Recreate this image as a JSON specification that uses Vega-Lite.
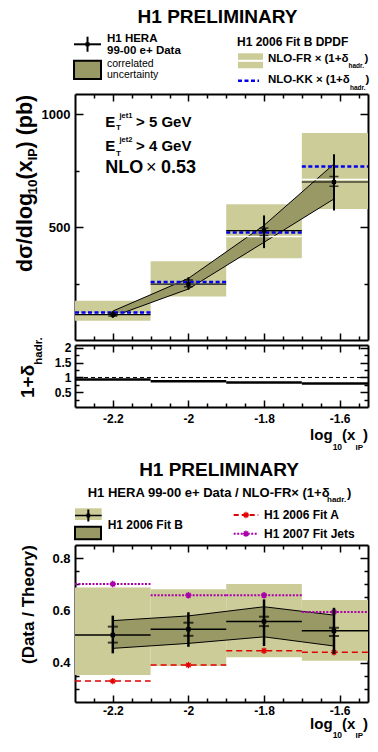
{
"$schema": "https://vega.github.io/schema/vega-lite/v6.json",
"background": "white",
"padding": {"left": 15, "top": 0, "right": 5, "bottom": 5},
"spacing": 5,
"bounds": "flush",
"config": {
 "view": {"stroke": null},
 "font": "Liberation Sans",
 "axis": {"domain": true, "domainColor": "black", "domainWidth": 2, "grid": false, "ticks": true, "tickColor": "black", "tickWidth": 1.5, "labelFont": "Liberation Sans", "labelFontWeight": "bold", "labelColor": "black", "labelFontSize": 12, "zindex": 1, "labelOverlap": false, "labelBound": false, "labelFlush": false},
 "text": {"font": "Liberation Sans", "fontWeight": "bold", "color": "black", "baseline": "alphabetic"}
},
"datasets": {
 "one": [{}],
 "bins": [
  {"lo": -2.3, "hi": -2.1, "x": -2.2, "fr": 115, "frLo": 85, "frHi": 174, "kk": 122, "d": 112, "sLo": 106, "sHi": 119, "tLo": 98, "tHi": 128, "had": 0.93, "r": 0.506, "rsLo": 0.477, "rsHi": 0.538, "rtLo": 0.436, "rtHi": 0.58, "bLo": 0.353, "bHi": 0.688, "fitA": 0.33, "fitJ": 0.701},
  {"lo": -2.1, "hi": -1.9, "x": -2.0, "fr": 247, "frLo": 193, "frHi": 349, "kk": 257, "d": 248, "sLo": 236, "sHi": 266, "tLo": 223, "tHi": 278, "had": 0.87, "r": 0.528, "rsLo": 0.503, "rsHi": 0.553, "rtLo": 0.461, "rtHi": 0.593, "bLo": 0.388, "bHi": 0.681, "fitA": 0.391, "fitJ": 0.658},
  {"lo": -1.9, "hi": -1.7, "x": -1.8, "fr": 459, "frLo": 362, "frHi": 601, "kk": 476, "d": 485, "sLo": 463, "sHi": 496, "tLo": 407, "tHi": 552, "had": 0.83, "r": 0.558, "rsLo": 0.54, "rsHi": 0.576, "rtLo": 0.464, "rtHi": 0.642, "bLo": 0.421, "bHi": 0.701, "fitA": 0.446, "fitJ": 0.658},
  {"lo": -1.7, "hi": -1.525, "x": -1.615, "fr": 711, "frLo": 580, "frHi": 917, "kk": 769, "d": 700, "sLo": 681, "sHi": 725, "tLo": 574, "tHi": 823, "had": 0.8, "r": 0.522, "rsLo": 0.502, "rsHi": 0.534, "rtLo": 0.433, "rtHi": 0.61, "bLo": 0.408, "bHi": 0.64, "fitA": 0.44, "fitJ": 0.594}
 ],
 "corr": [
  {"x": -2.2, "up": 128, "dn": 104, "rup": 0.561, "rdn": 0.455},
  {"x": -2.0, "up": 273, "dn": 226, "rup": 0.579, "rdn": 0.474},
  {"x": -1.8, "up": 508, "dn": 433, "rup": 0.614, "rdn": 0.499},
  {"x": -1.615, "up": 780, "dn": 625, "rup": 0.582, "rdn": 0.464}
 ]
},
"vconcat": [
 {
  "width": 293, "height": 89,
  "data": {"name": "one"},
  "layer": [
   {"mark": {"type": "text", "text": "H1 PRELIMINARY", "align": "center", "fontSize": 19}, "encoding": {"x": {"datum": -1.9231, "type": "quantitative", "scale": {"domain": [-2.3, -1.525], "nice": false, "zero": false}, "axis": null}, "y": {"datum": 23.3, "type": "quantitative", "scale": {"domain": [0, 89], "reverse": true, "nice": false, "zero": false}, "axis": null}}},
   {"mark": {"type": "rule", "color": "black", "strokeWidth": 2}, "encoding": {"x": {"datum": -2.3026, "axis": null}, "x2": {"datum": -2.2312}, "y": {"datum": 44.3, "axis": null}}},
   {"mark": {"type": "rule", "color": "black", "strokeWidth": 2}, "encoding": {"x": {"datum": -2.2669, "axis": null}, "y": {"datum": 36.7, "axis": null}, "y2": {"datum": 51.7}}},
   {"mark": {"type": "point", "shape": "square", "filled": true, "color": "black", "size": 16, "opacity": 1}, "encoding": {"x": {"datum": -2.2669, "axis": null}, "y": {"datum": 44.3, "axis": null}}},
   {"mark": {"type": "text", "text": "H1 HERA", "align": "left", "fontSize": 11.5}, "encoding": {"x": {"datum": -2.2154, "axis": null}, "y": {"datum": 42.2, "axis": null}}},
   {"mark": {"type": "text", "text": "99-00 e+ Data", "align": "left", "fontSize": 11.5}, "encoding": {"x": {"datum": -2.2154, "axis": null}, "y": {"datum": 54.3, "axis": null}}},
   {"mark": {"type": "rect", "fill": "#999966", "stroke": "black", "strokeWidth": 2}, "encoding": {"x": {"datum": -2.3026, "axis": null}, "x2": {"datum": -2.2312}, "y": {"datum": 60.7, "axis": null}, "y2": {"datum": 79}}},
   {"mark": {"type": "text", "text": "correlated", "align": "left", "fontSize": 10.5, "fontWeight": "normal"}, "encoding": {"x": {"datum": -2.2154, "axis": null}, "y": {"datum": 66.6, "axis": null}}},
   {"mark": {"type": "text", "text": "uncertainty", "align": "left", "fontSize": 10.5, "fontWeight": "normal"}, "encoding": {"x": {"datum": -2.2154, "axis": null}, "y": {"datum": 77.6, "axis": null}}},
   {"mark": {"type": "text", "text": "H1 2006 Fit B DPDF", "align": "left", "fontSize": 12}, "encoding": {"x": {"datum": -1.8715, "axis": null}, "y": {"datum": 45.7, "axis": null}}},
   {"mark": {"type": "rect", "fill": "#cccc99"}, "encoding": {"x": {"datum": -1.8689, "axis": null}, "x2": {"datum": -1.8027}, "y": {"datum": 53.3, "axis": null}, "y2": {"datum": 68.3}}},
   {"mark": {"type": "rule", "color": "white", "strokeWidth": 2}, "encoding": {"x": {"datum": -1.8689, "axis": null}, "x2": {"datum": -1.8027}, "y": {"datum": 60.8, "axis": null}}},
   {"mark": {"type": "text", "text": "NLO-FR × (1+δ", "align": "left", "fontSize": 11.5}, "encoding": {"x": {"datum": -1.7895, "axis": null}, "y": {"datum": 61.7, "axis": null}}},
   {"mark": {"type": "text", "text": "hadr.", "align": "left", "fontSize": 6.5}, "encoding": {"x": {"datum": -1.5766, "axis": null}, "y": {"datum": 68, "axis": null}}},
   {"mark": {"type": "text", "text": ")", "align": "left", "fontSize": 11.5}, "encoding": {"x": {"datum": -1.5342, "axis": null}, "y": {"datum": 61.7, "axis": null}}},
   {"mark": {"type": "rule", "color": "#0000ee", "strokeWidth": 2.5, "strokeDash": [4, 2.5]}, "encoding": {"x": {"datum": -1.8689, "axis": null}, "x2": {"datum": -1.8133}, "y": {"datum": 80.7, "axis": null}}},
   {"mark": {"type": "text", "text": "NLO-KK × (1+δ", "align": "left", "fontSize": 11.5}, "encoding": {"x": {"datum": -1.7895, "axis": null}, "y": {"datum": 83.3, "axis": null}}},
   {"mark": {"type": "text", "text": "hadr.", "align": "left", "fontSize": 6.5}, "encoding": {"x": {"datum": -1.5726, "axis": null}, "y": {"datum": 90, "axis": null}}},
   {"mark": {"type": "text", "text": ")", "align": "left", "fontSize": 11.5}, "encoding": {"x": {"datum": -1.5316, "axis": null}, "y": {"datum": 83.3, "axis": null}}}
  ]
 },
 {
  "width": 293, "height": 246,
  "data": {"name": "bins"},
  "resolve": {"axis": {"x": "independent", "y": "independent"}},
  "layer": [
   {"mark": {"type": "rect", "color": "#cccc99"}, "encoding": {"x": {"field": "lo", "type": "quantitative", "scale": {"domain": [-2.3, -1.525], "nice": false, "zero": false}, "axis": null}, "x2": {"field": "hi"}, "y": {"field": "frLo", "type": "quantitative", "scale": {"domain": [0, 1090], "nice": false, "zero": false}, "axis": null}, "y2": {"field": "frHi"}}},
   {"data": {"name": "corr"}, "mark": {"type": "area", "color": "#999966"}, "encoding": {"x": {"field": "x", "type": "quantitative", "axis": null}, "y": {"field": "up", "type": "quantitative", "axis": null}, "y2": {"field": "dn"}}},
   {"data": {"name": "corr"}, "mark": {"type": "line", "color": "black", "strokeWidth": 1}, "encoding": {"x": {"field": "x", "type": "quantitative", "axis": null}, "y": {"field": "up", "type": "quantitative", "axis": null}}},
   {"data": {"name": "corr"}, "mark": {"type": "line", "color": "black", "strokeWidth": 1}, "encoding": {"x": {"field": "x", "type": "quantitative", "axis": null}, "y": {"field": "dn", "type": "quantitative", "axis": null}}},
   {"mark": {"type": "rule", "color": "white", "strokeWidth": 1.5}, "encoding": {"x": {"field": "lo", "type": "quantitative", "axis": null}, "x2": {"field": "hi"}, "y": {"field": "fr", "type": "quantitative", "axis": null}}},
   {"mark": {"type": "rule", "color": "#0000ee", "strokeWidth": 2.5, "strokeDash": [4, 2.5]}, "encoding": {"x": {"field": "lo", "type": "quantitative", "axis": null}, "x2": {"field": "hi"}, "y": {"field": "kk", "type": "quantitative", "axis": null}}},
   {"mark": {"type": "rule", "color": "black", "strokeWidth": 1.2}, "encoding": {"x": {"field": "lo", "type": "quantitative", "axis": null}, "x2": {"field": "hi"}, "y": {"field": "d", "type": "quantitative", "axis": null}}},
   {"mark": {"type": "rule", "color": "black", "strokeWidth": 2}, "encoding": {"x": {"field": "x", "type": "quantitative", "axis": null}, "y": {"field": "tLo", "type": "quantitative", "axis": null}, "y2": {"field": "tHi"}}},
   {"mark": {"type": "tick", "orient": "horizontal", "size": 9, "thickness": 1.5, "color": "black"}, "encoding": {"x": {"field": "x", "type": "quantitative", "axis": null}, "y": {"field": "sLo", "type": "quantitative", "axis": null}}},
   {"mark": {"type": "tick", "orient": "horizontal", "size": 9, "thickness": 1.5, "color": "black"}, "encoding": {"x": {"field": "x", "type": "quantitative", "axis": null}, "y": {"field": "sHi", "type": "quantitative", "axis": null}}},
   {"mark": {"type": "point", "shape": "square", "filled": true, "color": "black", "size": 18, "opacity": 1}, "encoding": {"x": {"field": "x", "type": "quantitative", "axis": null}, "y": {"field": "d", "type": "quantitative", "axis": null}}},
   {"data": {"name": "one"}, "mark": {"type": "text", "text": "E", "align": "left", "fontSize": 15}, "encoding": {"x": {"datum": -2.2199, "axis": null}, "y": {"datum": 945, "axis": null}}},
   {"data": {"name": "one"}, "mark": {"type": "text", "text": "T", "align": "left", "fontSize": 8}, "encoding": {"x": {"datum": -2.1916, "axis": null}, "y": {"datum": 929, "axis": null}}},
   {"data": {"name": "one"}, "mark": {"type": "text", "text": "jet1", "align": "left", "fontSize": 7.5}, "encoding": {"x": {"datum": -2.1823, "axis": null}, "y": {"datum": 983, "axis": null}}},
   {"data": {"name": "one"}, "mark": {"type": "text", "text": "> 5 GeV", "align": "left", "fontSize": 15}, "encoding": {"x": {"datum": -2.1386, "axis": null}, "y": {"datum": 945, "axis": null}}},
   {"data": {"name": "one"}, "mark": {"type": "text", "text": "E", "align": "left", "fontSize": 15}, "encoding": {"x": {"datum": -2.2199, "axis": null}, "y": {"datum": 837, "axis": null}}},
   {"data": {"name": "one"}, "mark": {"type": "text", "text": "T", "align": "left", "fontSize": 8}, "encoding": {"x": {"datum": -2.1916, "axis": null}, "y": {"datum": 817, "axis": null}}},
   {"data": {"name": "one"}, "mark": {"type": "text", "text": "jet2", "align": "left", "fontSize": 7.5}, "encoding": {"x": {"datum": -2.1823, "axis": null}, "y": {"datum": 876, "axis": null}}},
   {"data": {"name": "one"}, "mark": {"type": "text", "text": "> 4 GeV", "align": "left", "fontSize": 15}, "encoding": {"x": {"datum": -2.1386, "axis": null}, "y": {"datum": 837, "axis": null}}},
   {"data": {"name": "one"}, "mark": {"type": "text", "text": "NLO", "align": "left", "fontSize": 18}, "encoding": {"x": {"datum": -2.2199, "axis": null}, "y": {"datum": 739, "axis": null}}},
   {"data": {"name": "one"}, "mark": {"type": "text", "text": "×", "align": "left", "fontSize": 18, "fontWeight": "normal"}, "encoding": {"x": {"datum": -2.1122, "axis": null}, "y": {"datum": 739, "axis": null}}},
   {"data": {"name": "one"}, "mark": {"type": "text", "text": "0.53", "align": "left", "fontSize": 18}, "encoding": {"x": {"datum": -2.0725, "axis": null}, "y": {"datum": 739, "axis": null}}},
   {"data": {"name": "one"}, "mark": {"type": "text", "text": "dσ/dlog", "align": "left", "angle": 270, "fontSize": 21.5}, "encoding": {"x": {"datum": -2.4137, "axis": null}, "y": {"datum": 301.3, "axis": null}}},
   {"data": {"name": "one"}, "mark": {"type": "text", "text": "10", "align": "left", "angle": 270, "fontSize": 13.5}, "encoding": {"x": {"datum": -2.4005, "axis": null}, "y": {"datum": 645.1, "axis": null}}},
   {"data": {"name": "one"}, "mark": {"type": "text", "text": "(x", "align": "left", "angle": 270, "fontSize": 21.5}, "encoding": {"x": {"datum": -2.4137, "axis": null}, "y": {"datum": 711.6, "axis": null}}},
   {"data": {"name": "one"}, "mark": {"type": "text", "text": "IP", "align": "left", "angle": 270, "fontSize": 12.5}, "encoding": {"x": {"datum": -2.4005, "axis": null}, "y": {"datum": 796.2, "axis": null}}},
   {"data": {"name": "one"}, "mark": {"type": "text", "text": ")", "align": "left", "angle": 270, "fontSize": 21.5}, "encoding": {"x": {"datum": -2.4137, "axis": null}, "y": {"datum": 848.5, "axis": null}}},
   {"data": {"name": "one"}, "mark": {"type": "text", "text": "(pb)", "align": "left", "angle": 270, "fontSize": 21.5}, "encoding": {"x": {"datum": -2.4137, "axis": null}, "y": {"datum": 907, "axis": null}}},
   {"data": {"name": "one"}, "mark": {"type": "point", "opacity": 0}, "encoding": {
     "x": {"datum": -2.0, "type": "quantitative", "axis": {"orient": "bottom", "title": null, "labels": false, "values": [-2.25, -2.2, -2.15, -2.1, -2.05, -2.0, -1.95, -1.9, -1.85, -1.8, -1.75, -1.7, -1.65, -1.6, -1.55], "tickSize": {"condition": {"test": "abs(datum.value*5-round(datum.value*5))<0.001", "value": -7}, "value": -4}}},
     "y": {"datum": 500, "type": "quantitative", "axis": {"orient": "left", "title": null, "values": [250, 500, 750, 1000], "labelExpr": "datum.value%500==0 ? toString(datum.value) : ''", "labelFontSize": 13, "labelPadding": 13, "tickSize": {"condition": {"test": "datum.value%500==0", "value": -8}, "value": -4}}}}},
   {"data": {"name": "one"}, "mark": {"type": "point", "opacity": 0}, "encoding": {
     "x": {"datum": -2.0, "type": "quantitative", "axis": {"orient": "top", "title": null, "labels": false, "values": [-2.25, -2.2, -2.15, -2.1, -2.05, -2.0, -1.95, -1.9, -1.85, -1.8, -1.75, -1.7, -1.65, -1.6, -1.55], "tickSize": {"condition": {"test": "abs(datum.value*5-round(datum.value*5))<0.001", "value": -7}, "value": -4}}},
     "y": {"datum": 500, "type": "quantitative", "axis": {"orient": "right", "title": null, "labels": false, "values": [250, 500, 750, 1000], "tickSize": {"condition": {"test": "datum.value%500==0", "value": -8}, "value": -4}}}}}
  ]
 },
 {
  "width": 293, "height": 62,
  "data": {"name": "bins"},
  "resolve": {"axis": {"x": "independent", "y": "independent"}},
  "layer": [
   {"data": {"name": "one"}, "mark": {"type": "rule", "color": "black", "strokeWidth": 1, "strokeDash": [4, 3]}, "encoding": {"y": {"datum": 1, "type": "quantitative", "scale": {"domain": [0, 2.1], "nice": false, "zero": false}, "axis": null}}},
   {"mark": {"type": "rule", "color": "black", "strokeWidth": 2.5}, "encoding": {"x": {"field": "lo", "type": "quantitative", "scale": {"domain": [-2.3, -1.525], "nice": false, "zero": false}, "axis": null}, "x2": {"field": "hi"}, "y": {"field": "had", "type": "quantitative", "axis": null}}},
   {"data": {"name": "one"}, "mark": {"type": "text", "text": "1+δ", "align": "left", "angle": 270, "fontSize": 19}, "encoding": {"x": {"datum": -2.4084, "axis": null}, "y": {"datum": 0.305, "axis": null}}},
   {"data": {"name": "one"}, "mark": {"type": "text", "text": "hadr.", "align": "left", "angle": 270, "fontSize": 11.5}, "encoding": {"x": {"datum": -2.3873, "axis": null}, "y": {"datum": 1.433, "axis": null}}},
   {"data": {"name": "one"}, "mark": {"type": "text", "text": "log", "align": "right", "fontSize": 15}, "encoding": {"x": {"datum": -1.6186, "axis": null}, "y": {"datum": -1.11, "axis": null}}},
   {"data": {"name": "one"}, "mark": {"type": "text", "text": "10", "align": "right", "fontSize": 8.5}, "encoding": {"x": {"datum": -1.5935, "axis": null}, "y": {"datum": -1.44, "axis": null}}},
   {"data": {"name": "one"}, "mark": {"type": "text", "text": "(x", "align": "right", "fontSize": 15}, "encoding": {"x": {"datum": -1.5583, "axis": null}, "y": {"datum": -1.11, "axis": null}}},
   {"data": {"name": "one"}, "mark": {"type": "text", "text": "IP", "align": "right", "fontSize": 8}, "encoding": {"x": {"datum": -1.5382, "axis": null}, "y": {"datum": -1.44, "axis": null}}},
   {"data": {"name": "one"}, "mark": {"type": "text", "text": ")", "align": "right", "fontSize": 15}, "encoding": {"x": {"datum": -1.525, "axis": null}, "y": {"datum": -1.11, "axis": null}}},
   {"data": {"name": "one"}, "mark": {"type": "point", "opacity": 0}, "encoding": {
     "x": {"datum": -2.0, "type": "quantitative", "axis": {"orient": "bottom", "title": null, "values": [-2.25, -2.2, -2.15, -2.1, -2.05, -2.0, -1.95, -1.9, -1.85, -1.8, -1.75, -1.7, -1.65, -1.6, -1.55], "labelExpr": "abs(datum.value*5-round(datum.value*5))<0.001 ? toString(round(datum.value*10)/10) : ''", "labelFontSize": 12, "labelPadding": 13, "tickSize": {"condition": {"test": "abs(datum.value*5-round(datum.value*5))<0.001", "value": -7}, "value": -4}}},
     "y": {"datum": 1, "type": "quantitative", "axis": {"orient": "left", "title": null, "values": [0.25, 0.5, 0.75, 1, 1.25, 1.5, 1.75, 2], "labelExpr": "abs(datum.value*2-round(datum.value*2))<0.001 ? toString(datum.value) : ''", "labelFontSize": 12, "labelPadding": 12, "tickSize": {"condition": {"test": "abs(datum.value*2-round(datum.value*2))<0.001", "value": -8}, "value": -4}}}}},
   {"data": {"name": "one"}, "mark": {"type": "point", "opacity": 0}, "encoding": {
     "x": {"datum": -2.0, "type": "quantitative", "axis": {"orient": "top", "title": null, "labels": false, "values": [-2.25, -2.2, -2.15, -2.1, -2.05, -2.0, -1.95, -1.9, -1.85, -1.8, -1.75, -1.7, -1.65, -1.6, -1.55], "tickSize": {"condition": {"test": "abs(datum.value*5-round(datum.value*5))<0.001", "value": -7}, "value": -4}}},
     "y": {"datum": 1, "type": "quantitative", "axis": {"orient": "right", "title": null, "labels": false, "values": [0.25, 0.5, 0.75, 1, 1.25, 1.5, 1.75, 2], "tickSize": {"condition": {"test": "abs(datum.value*2-round(datum.value*2))<0.001", "value": -8}, "value": -4}}}}}
  ]
 },
 {
  "width": 293, "height": 128,
  "data": {"name": "one"},
  "layer": [
   {"mark": {"type": "text", "text": "H1 PRELIMINARY", "align": "center", "fontSize": 19}, "encoding": {"x": {"datum": -1.9191, "type": "quantitative", "scale": {"domain": [-2.3, -1.525], "nice": false, "zero": false}, "axis": null}, "y": {"datum": 63.7, "type": "quantitative", "scale": {"domain": [0, 128], "reverse": true, "nice": false, "zero": false}, "axis": null}}},
   {"mark": {"type": "text", "text": "H1 HERA 99-00 e+ Data / NLO-FR× (1+δ", "align": "left", "fontSize": 13}, "encoding": {"x": {"datum": -2.2664, "axis": null}, "y": {"datum": 84.7, "axis": null}}},
   {"mark": {"type": "text", "text": "hadr.", "align": "left", "fontSize": 8}, "encoding": {"x": {"datum": -1.6334, "axis": null}, "y": {"datum": 89.7, "axis": null}}},
   {"mark": {"type": "text", "text": ")", "align": "left", "fontSize": 13}, "encoding": {"x": {"datum": -1.5805, "axis": null}, "y": {"datum": 84.7, "axis": null}}},
   {"mark": {"type": "rect", "fill": "#cccc99"}, "encoding": {"x": {"datum": -2.3, "axis": null}, "x2": {"datum": -2.2294}, "y": {"datum": 96.3, "axis": null}, "y2": {"datum": 108}}},
   {"mark": {"type": "rule", "color": "black", "strokeWidth": 1.5}, "encoding": {"x": {"datum": -2.3, "axis": null}, "x2": {"datum": -2.2294}, "y": {"datum": 103.5, "axis": null}}},
   {"mark": {"type": "rule", "color": "black", "strokeWidth": 2}, "encoding": {"x": {"datum": -2.2648, "axis": null}, "y": {"datum": 97.5, "axis": null}, "y2": {"datum": 109.5}}},
   {"mark": {"type": "point", "shape": "square", "filled": true, "color": "black", "size": 14, "opacity": 1}, "encoding": {"x": {"datum": -2.2648, "axis": null}, "y": {"datum": 103.5, "axis": null}}},
   {"mark": {"type": "rect", "fill": "#999966", "stroke": "black", "strokeWidth": 2}, "encoding": {"x": {"datum": -2.3, "axis": null}, "x2": {"datum": -2.2312}, "y": {"datum": 114.7, "axis": null}, "y2": {"datum": 127.3}}},
   {"mark": {"type": "text", "text": "H1 2006 Fit B", "align": "left", "fontSize": 12}, "encoding": {"x": {"datum": -2.2136, "axis": null}, "y": {"datum": 117.3, "axis": null}}},
   {"mark": {"type": "rule", "color": "#e00000", "strokeWidth": 2, "strokeDash": [5, 3]}, "encoding": {"x": {"datum": -1.8802, "axis": null}, "x2": {"datum": -1.8152}, "y": {"datum": 103, "axis": null}}},
   {"mark": {"type": "point", "shape": "M-1,0L1,0M0,-1L0,1M-0.7,-0.7L0.7,0.7M-0.7,0.7L0.7,-0.7", "filled": false, "color": "#e00000", "strokeWidth": 1.3, "size": 40, "opacity": 1}, "encoding": {"x": {"datum": -1.8477, "axis": null}, "y": {"datum": 103, "axis": null}}},
   {"mark": {"type": "text", "text": "H1 2006 Fit A", "align": "left", "fontSize": 12}, "encoding": {"x": {"datum": -1.8001, "axis": null}, "y": {"datum": 107.3, "axis": null}}},
   {"mark": {"type": "rule", "color": "#aa00aa", "strokeWidth": 2, "strokeDash": [2, 1.5]}, "encoding": {"x": {"datum": -1.8802, "axis": null}, "x2": {"datum": -1.8152}, "y": {"datum": 121.7, "axis": null}}},
   {"mark": {"type": "point", "shape": "M-1,0L1,0M0,-1L0,1M-0.7,-0.7L0.7,0.7M-0.7,0.7L0.7,-0.7", "filled": false, "color": "#aa00aa", "strokeWidth": 1.5, "size": 40, "opacity": 1}, "encoding": {"x": {"datum": -1.8477, "axis": null}, "y": {"datum": 121.7, "axis": null}}},
   {"mark": {"type": "text", "text": "H1 2007 Fit Jets", "align": "left", "fontSize": 12}, "encoding": {"x": {"datum": -1.8001, "axis": null}, "y": {"datum": 125.7, "axis": null}}}
  ]
 },
 {
  "width": 293, "height": 157,
  "data": {"name": "bins"},
  "resolve": {"axis": {"x": "independent", "y": "independent"}},
  "layer": [
   {"mark": {"type": "rect", "color": "#cccc99"}, "encoding": {"x": {"field": "lo", "type": "quantitative", "scale": {"domain": [-2.3, -1.525], "nice": false, "zero": false}, "axis": null}, "x2": {"field": "hi"}, "y": {"field": "bLo", "type": "quantitative", "scale": {"domain": [0.25, 0.85], "nice": false, "zero": false}, "axis": null}, "y2": {"field": "bHi"}}},
   {"data": {"name": "corr"}, "mark": {"type": "area", "color": "#999966"}, "encoding": {"x": {"field": "x", "type": "quantitative", "axis": null}, "y": {"field": "rup", "type": "quantitative", "axis": null}, "y2": {"field": "rdn"}}},
   {"data": {"name": "corr"}, "mark": {"type": "line", "color": "black", "strokeWidth": 1}, "encoding": {"x": {"field": "x", "type": "quantitative", "axis": null}, "y": {"field": "rup", "type": "quantitative", "axis": null}}},
   {"data": {"name": "corr"}, "mark": {"type": "line", "color": "black", "strokeWidth": 1}, "encoding": {"x": {"field": "x", "type": "quantitative", "axis": null}, "y": {"field": "rdn", "type": "quantitative", "axis": null}}},
   {"mark": {"type": "rule", "color": "#aa00aa", "strokeWidth": 2, "strokeDash": [2, 1.5]}, "encoding": {"x": {"field": "lo", "type": "quantitative", "axis": null}, "x2": {"field": "hi"}, "y": {"field": "fitJ", "type": "quantitative", "axis": null}}},
   {"mark": {"type": "point", "shape": "M-1,0L1,0M0,-1L0,1M-0.7,-0.7L0.7,0.7M-0.7,0.7L0.7,-0.7", "filled": false, "color": "#aa00aa", "strokeWidth": 1.5, "size": 40, "opacity": 1}, "encoding": {"x": {"field": "x", "type": "quantitative", "axis": null}, "y": {"field": "fitJ", "type": "quantitative", "axis": null}}},
   {"mark": {"type": "rule", "color": "#e00000", "strokeWidth": 1.5, "strokeDash": [6, 4]}, "encoding": {"x": {"field": "lo", "type": "quantitative", "axis": null}, "x2": {"field": "hi"}, "y": {"field": "fitA", "type": "quantitative", "axis": null}}},
   {"mark": {"type": "point", "shape": "M-1,0L1,0M0,-1L0,1M-0.7,-0.7L0.7,0.7M-0.7,0.7L0.7,-0.7", "filled": false, "color": "#e00000", "strokeWidth": 1.3, "size": 40, "opacity": 1}, "encoding": {"x": {"field": "x", "type": "quantitative", "axis": null}, "y": {"field": "fitA", "type": "quantitative", "axis": null}}},
   {"mark": {"type": "rule", "color": "black", "strokeWidth": 1.5}, "encoding": {"x": {"field": "lo", "type": "quantitative", "axis": null}, "x2": {"field": "hi"}, "y": {"field": "r", "type": "quantitative", "axis": null}}},
   {"mark": {"type": "rule", "color": "black", "strokeWidth": 2.5}, "encoding": {"x": {"field": "x", "type": "quantitative", "axis": null}, "y": {"field": "rtLo", "type": "quantitative", "axis": null}, "y2": {"field": "rtHi"}}},
   {"mark": {"type": "tick", "orient": "horizontal", "size": 10, "thickness": 2, "color": "black"}, "encoding": {"x": {"field": "x", "type": "quantitative", "axis": null}, "y": {"field": "rsLo", "type": "quantitative", "axis": null}}},
   {"mark": {"type": "tick", "orient": "horizontal", "size": 10, "thickness": 2, "color": "black"}, "encoding": {"x": {"field": "x", "type": "quantitative", "axis": null}, "y": {"field": "rsHi", "type": "quantitative", "axis": null}}},
   {"mark": {"type": "point", "shape": "square", "filled": true, "color": "black", "size": 20, "opacity": 1}, "encoding": {"x": {"field": "x", "type": "quantitative", "axis": null}, "y": {"field": "r", "type": "quantitative", "axis": null}}},
   {"data": {"name": "one"}, "mark": {"type": "text", "text": "(Data / Theory)", "align": "right", "angle": 270, "fontSize": 17}, "encoding": {"x": {"datum": -2.4074, "axis": null}, "y": {"datum": 0.85, "axis": null}}},
   {"data": {"name": "one"}, "mark": {"type": "text", "text": "log", "align": "right", "fontSize": 15}, "encoding": {"x": {"datum": -1.6186, "axis": null}, "y": {"datum": 0.145, "axis": null}}},
   {"data": {"name": "one"}, "mark": {"type": "text", "text": "10", "align": "right", "fontSize": 8.5}, "encoding": {"x": {"datum": -1.5935, "axis": null}, "y": {"datum": 0.1125, "axis": null}}},
   {"data": {"name": "one"}, "mark": {"type": "text", "text": "(x", "align": "right", "fontSize": 15}, "encoding": {"x": {"datum": -1.5583, "axis": null}, "y": {"datum": 0.145, "axis": null}}},
   {"data": {"name": "one"}, "mark": {"type": "text", "text": "IP", "align": "right", "fontSize": 8}, "encoding": {"x": {"datum": -1.5382, "axis": null}, "y": {"datum": 0.1125, "axis": null}}},
   {"data": {"name": "one"}, "mark": {"type": "text", "text": ")", "align": "right", "fontSize": 15}, "encoding": {"x": {"datum": -1.525, "axis": null}, "y": {"datum": 0.145, "axis": null}}},
   {"data": {"name": "one"}, "mark": {"type": "point", "opacity": 0}, "encoding": {
     "x": {"datum": -2.0, "type": "quantitative", "axis": {"orient": "bottom", "title": null, "values": [-2.25, -2.2, -2.15, -2.1, -2.05, -2.0, -1.95, -1.9, -1.85, -1.8, -1.75, -1.7, -1.65, -1.6, -1.55], "labelExpr": "abs(datum.value*5-round(datum.value*5))<0.001 ? toString(round(datum.value*10)/10) : ''", "labelFontSize": 12, "labelPadding": 10, "tickSize": {"condition": {"test": "abs(datum.value*5-round(datum.value*5))<0.001", "value": -7}, "value": -4}}},
     "y": {"datum": 0.5, "type": "quantitative", "axis": {"orient": "left", "title": null, "values": [0.3, 0.35, 0.4, 0.45, 0.5, 0.55, 0.6, 0.65, 0.7, 0.75, 0.8], "labelExpr": "abs(datum.value*5-round(datum.value*5))<0.001 ? toString(round(datum.value*10)/10) : ''", "labelFontSize": 13, "labelPadding": 13, "tickSize": {"condition": {"test": "abs(datum.value*5-round(datum.value*5))<0.001", "value": -8}, "value": -4}}}}},
   {"data": {"name": "one"}, "mark": {"type": "point", "opacity": 0}, "encoding": {
     "x": {"datum": -2.0, "type": "quantitative", "axis": {"orient": "top", "title": null, "labels": false, "values": [-2.25, -2.2, -2.15, -2.1, -2.05, -2.0, -1.95, -1.9, -1.85, -1.8, -1.75, -1.7, -1.65, -1.6, -1.55], "tickSize": {"condition": {"test": "abs(datum.value*5-round(datum.value*5))<0.001", "value": -7}, "value": -4}}},
     "y": {"datum": 0.5, "type": "quantitative", "axis": {"orient": "right", "title": null, "labels": false, "values": [0.3, 0.35, 0.4, 0.45, 0.5, 0.55, 0.6, 0.65, 0.7, 0.75, 0.8], "tickSize": {"condition": {"test": "abs(datum.value*5-round(datum.value*5))<0.001", "value": -8}, "value": -4}}}}}
  ]
 }
]
}
